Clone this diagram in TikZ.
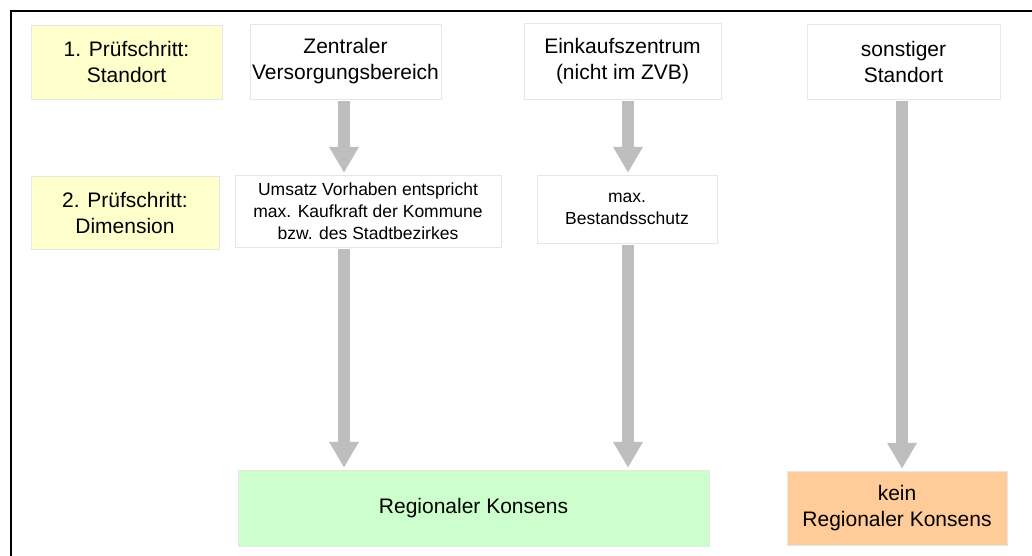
\documentclass[tikz,border=0pt]{standalone}
\usepackage{fontspec}
\setmainfont{Liberation Sans}
\usepackage{tikz}
\usetikzlibrary{arrows.meta}

\definecolor{stepyellow}{RGB}{255,255,204}
\definecolor{konsgreen}{RGB}{204,255,204}
\definecolor{keinorange}{RGB}{255,204,153}
\definecolor{boxline}{RGB}{230,230,230}
\definecolor{arrowgray}{RGB}{190,190,190}

\begin{document}
\begin{tikzpicture}[x=1pt, y=-1pt,
    bigtext/.style={font=\fontsize{21}{26}\selectfont},
    smalltext/.style={font=\fontsize{17.5}{22}\selectfont},
    stepbox/.style={fill=stepyellow, draw=boxline, align=center, inner sep=0pt, bigtext},
    optbox/.style={fill=white, draw=boxline, align=center, inner sep=0pt},
    resbox/.style={draw=boxline, align=center, inner sep=0pt, bigtext},
    bigarrow/.style={draw=arrowgray, line width=12pt, shorten <=2pt, shorten >=2pt,
        -{Triangle[length=26pt, width=28pt]}}
]
    \useasboundingbox (0,0) rectangle (1032,556);

    % frame
    \draw[line width=2pt] (11,556) -- (11,11) -- (1032,11);

    % Pruefschritte
    \node[stepbox, minimum width=191, minimum height=74] (step1) at (126.5,62) {1. Prüfschritt:\\Standort};
    \node[stepbox, minimum width=188, minimum height=73] (step2) at (125,212.5) {2. Prüfschritt:\\Dimension};

    % Standorte
    \node[optbox, bigtext, minimum width=191, minimum height=75] (zvb) at (345.5,61.5) {Zentraler\\Versorgungsbereich};
    \node[optbox, bigtext, minimum width=197, minimum height=76] (ekz) at (622.5,61) {Einkaufszentrum\\(nicht im ZVB)};
    \node[optbox, bigtext, minimum width=193, minimum height=75] (sonst) at (903.5,61.5) {sonstiger\\Standort};

    % Dimension
    \node[optbox, smalltext, minimum width=266, minimum height=72] (umsatz) at (368,211) {Umsatz Vorhaben entspricht\\max. Kaufkraft der Kommune\\bzw. des Stadtbezirkes};
    \node[optbox, smalltext, minimum width=180, minimum height=68] (bestand) at (627,209) {max.\\Bestandsschutz};

    % Ergebnis
    \node[resbox, fill=konsgreen, minimum width=471, minimum height=76] (konsens) at (473.5,508) {Regionaler Konsens};
    \node[resbox, fill=keinorange, minimum width=220, minimum height=74] (kein) at (897,508) {kein\\Regionaler Konsens};

    % arrow columns
    \coordinate (colA) at (344,0);
    \coordinate (colB) at (628,0);
    \coordinate (colC) at (902,0);

    \draw[bigarrow] (zvb.south -| colA) -- (umsatz.north -| colA);
    \draw[bigarrow] (umsatz.south -| colA) -- (konsens.north -| colA);
    \draw[bigarrow] (ekz.south -| colB) -- (bestand.north -| colB);
    \draw[bigarrow] (bestand.south -| colB) -- (konsens.north -| colB);
    \draw[bigarrow] (sonst.south -| colC) -- (kein.north -| colC);
\end{tikzpicture}
\end{document}
